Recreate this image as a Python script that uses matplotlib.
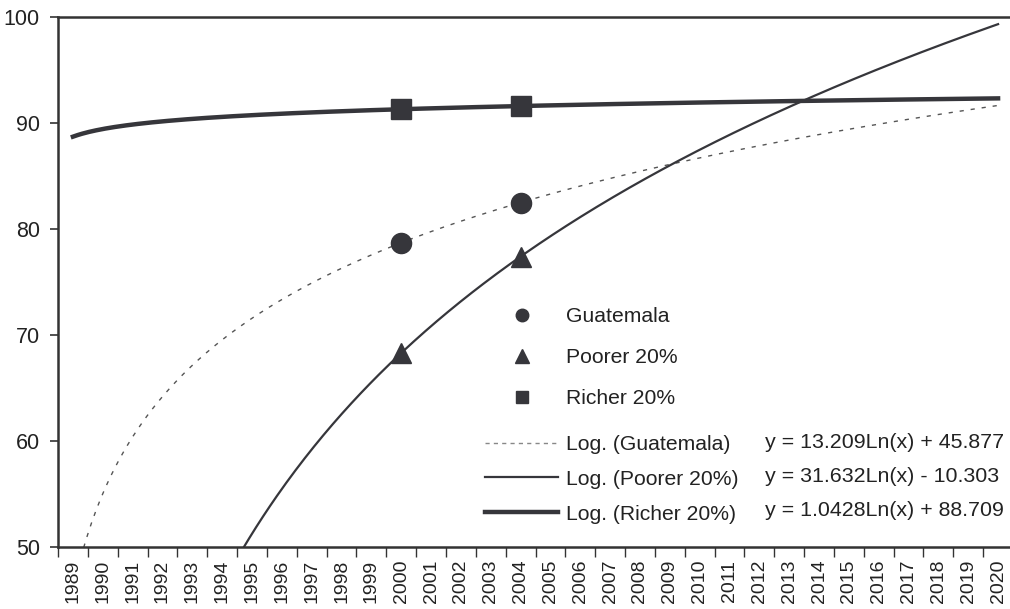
import numpy as np
import matplotlib
matplotlib.use('Agg')
import matplotlib.pyplot as plt
from matplotlib.lines import Line2D

plt.rcParams['font.family'] = ['Liberation Sans', 'DejaVu Sans']

# Data
years = list(range(1989, 2021))
obs_years = [2000, 2004]
guatemala = [78.7, 82.5]
poorer = [68.3, 77.4]
richer = [91.3, 91.6]

# log trendline coefficients shown on the chart (y = a*Ln(x) + b, x = 1 for 1989)
trend_a = [13.209, 31.632, 1.0428]
trend_b = [45.877, -10.303, 88.709]
trend_labels = ['y = 13.209Ln(x) + 45.877', 'y = 31.632Ln(x) - 10.303', 'y = 1.0428Ln(x) + 88.709']

W, H = 1010, 609
fig = plt.figure(figsize=(W / 100, H / 100), dpi=100)
ax = fig.add_axes([58 / W, 1 - 547 / H, (1013 - 58) / W, (547 - 17) / H])

dark = '#36363b'
xi = np.array([y - 1988 for y in obs_years])

# trendlines
xt = np.linspace(1, len(years), 400)
styles = [dict(color='#555555', lw=1.0, ls=(0, (3, 5))),
          dict(color=dark, lw=1.6, ls='-'),
          dict(color=dark, lw=3.2, ls='-')]
for a, b, st in zip(trend_a, trend_b, styles):
    ax.plot(xt, a * np.log(xt) + b, **st)

ax.plot(xi, guatemala, 'o', color=dark, ms=14.5, ls='none', zorder=5)
ax.plot(xi, poorer, '^', color=dark, ms=15, ls='none', zorder=5)
ax.plot(xi, richer, 's', color=dark, ms=14, ls='none', zorder=5)

ax.set_xlim(0.5, len(years) + 0.5)
ax.set_ylim(50, 100)
ax.set_yticks([50, 60, 70, 80, 90, 100])
ax.tick_params(axis='y', labelsize=15.5, length=6, width=1.2, color='#333333', labelcolor='#222222', pad=7)
ax.set_xticks(np.arange(1, len(years) + 1))
ax.set_xticklabels([str(y) for y in years], rotation=90)
ax.set_xticks(np.arange(0.5, len(years) + 1), minor=True)
ax.tick_params(axis='x', which='major', length=0, labelsize=14, labelcolor='#222222', pad=9)
ax.tick_params(axis='x', which='minor', length=7, width=1, color='#333333')
for s in ['left', 'bottom', 'top']:
    ax.spines[s].set_linewidth(1.8)
    ax.spines[s].set_color('#333333')
ax.spines['right'].set_visible(False)

# legends
mk_handles = [Line2D([], [], marker='o', color=dark, ls='none', ms=9),
              Line2D([], [], marker='^', color=dark, ls='none', ms=9.5),
              Line2D([], [], marker='s', color=dark, ls='none', ms=8.5)]
fig.legend(mk_handles, ['Guatemala', 'Poorer 20%', 'Richer 20%'],
           loc='upper left', bbox_to_anchor=(485 / W, 1 - 307 / H),
           frameon=False, fontsize=15.2, numpoints=1, handlelength=3.46,
           handletextpad=0.4, borderpad=0, borderaxespad=0, labelspacing=1.05,
           labelcolor='#222222')
ln_handles = [Line2D([], [], color='#888888', lw=1.0, ls=(0, (3, 3))),
              Line2D([], [], color=dark, lw=1.6),
              Line2D([], [], color=dark, lw=3.2)]
fig.legend(ln_handles, ['Log. (Guatemala)', 'Log. (Poorer 20%)', 'Log. (Richer 20%)'],
           loc='upper left', bbox_to_anchor=(485 / W, 1 - 435 / H),
           frameon=False, fontsize=15.2, handlelength=3.46,
           handletextpad=0.4, borderpad=0, borderaxespad=0, labelspacing=0.75,
           labelcolor='#222222')

for lbl, yp in zip(trend_labels, [442, 477, 511]):
    fig.text(765 / W, 1 - yp / H, lbl, fontsize=15.4, color='#222222', va='center', ha='left')

fig.savefig('out.png', dpi=100)
